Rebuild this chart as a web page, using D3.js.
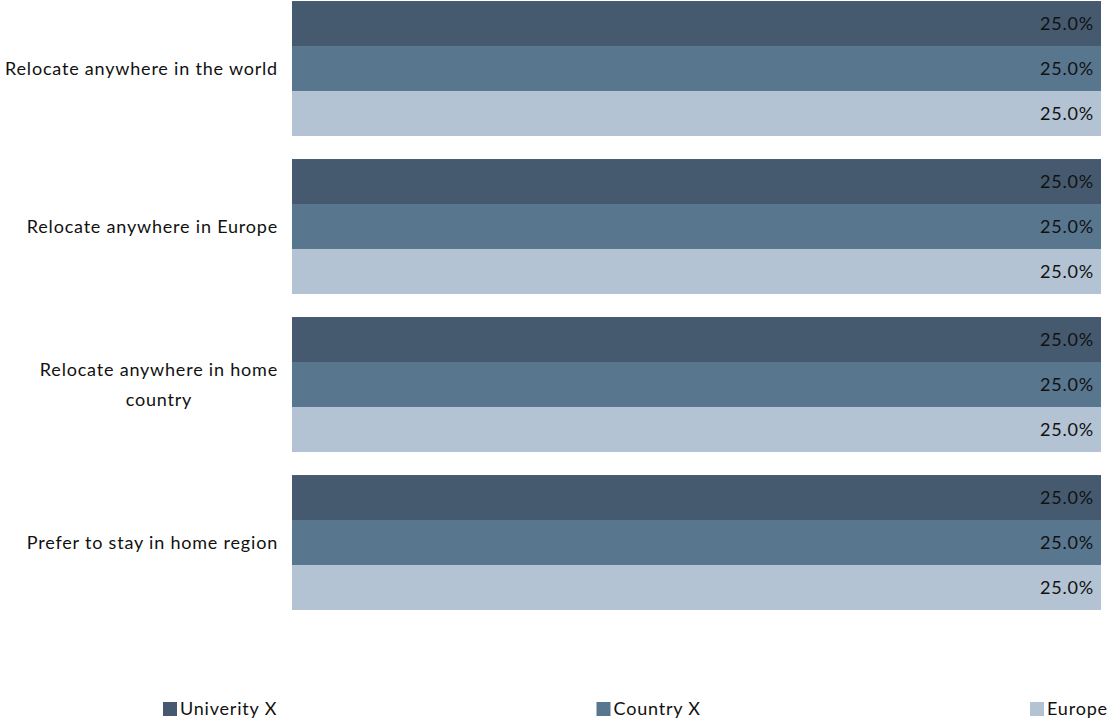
<!DOCTYPE html>
<html><head><meta charset="utf-8">
<script src="https://cdn.jsdelivr.net/npm/d3@7"></script>
<style>html,body{margin:0;padding:0;background:#fff;}svg{display:block;font-family:Lato, "Open Sans", sans-serif;}text{letter-spacing:0.8px;}</style>
</head><body>
<svg id="chart" width="1111" height="722"></svg>
<script>
const categories = [
  ["Relocate anywhere in the world"],
  ["Relocate anywhere in Europe"],
  ["Relocate anywhere in home", "country"],
  ["Prefer to stay in home region"]
];
const series = ["Univerity X", "Country X", "Europe"];
const values = {
  "Univerity X": [0.25, 0.25, 0.25, 0.25],
  "Country X":   [0.25, 0.25, 0.25, 0.25],
  "Europe":      [0.25, 0.25, 0.25, 0.25]
};
const colors = ["#455a6f", "#59768f", "#b3c3d3"];

const svg = d3.select("#chart");
const catKeys = categories.map(c => c.join(" "));
const y0 = d3.scaleBand().domain(catKeys).range([-10.5, 621.5]).paddingInner(0.146).paddingOuter(0.073);
const y1 = d3.scaleBand().domain(series).range([0, y0.bandwidth()]);
const x = d3.scaleLinear().domain([0, 0.25]).range([292, 1101]);
const color = d3.scaleOrdinal().domain(series).range(colors);
const fmt = d3.format(".1%");
const FS = 18;

const groups = svg.selectAll("g.grp").data(categories).enter().append("g")
  .attr("transform", (d) => `translate(0,${y0(d.join(" "))})`);

groups.each(function(cat, ci) {
  const g = d3.select(this);
  series.forEach(s => {
    const v = values[s][ci];
    g.append("rect").attr("x", x(0)).attr("y", y1(s))
      .attr("width", x(v) - x(0)).attr("height", y1.bandwidth())
      .attr("fill", color(s));
    g.append("text").attr("x", x(v) - 7).attr("y", y1(s) + y1.bandwidth() / 2)
      .attr("dy", "0.35em").attr("text-anchor", "end")
      .attr("font-size", FS).attr("fill", "#111").text(fmt(v));
  });
  const cy = y0.bandwidth() / 2;
  const lh = 30;
  const t = g.append("text").attr("font-size", FS).attr("fill", "#111");
  const n = cat.length;
  cat.forEach((line, i) => {
    t.append("tspan").attr("y", cy + (i - (n - 1) / 2) * lh).attr("dy", "0.35em").text(line);
  });
  if (n === 1) {
    t.attr("text-anchor", "end").selectAll("tspan").attr("x", 278);
  } else {
    const w = d3.max(t.selectAll("tspan").nodes(), nd => nd.getComputedTextLength());
    t.attr("text-anchor", "middle").selectAll("tspan").attr("x", 278 - w / 2);
  }
});

// legend
const lx = d3.scalePoint().domain(series).range([163, 1030]);
const leg = svg.selectAll("g.leg").data(series).enter().append("g")
  .attr("transform", d => `translate(${lx(d)},702)`);
leg.append("rect").attr("width", 14).attr("height", 14).attr("fill", d => color(d));
leg.append("text").attr("x", 17).attr("y", 7).attr("dy", "0.35em")
  .attr("font-size", FS).attr("fill", "#111").text(d => d);
</script>
</body></html>
